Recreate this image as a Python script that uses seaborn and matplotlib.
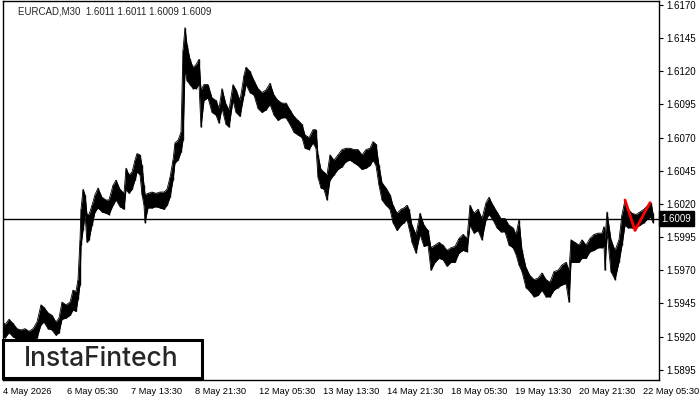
import matplotlib
matplotlib.use('Agg')
import matplotlib.pyplot as plt
import seaborn as sns
import pandas as pd
from matplotlib.patches import Rectangle

# bar number (M30 bars from the left edge), high and low
bar = [0, 2, 6, 10, 14, 18, 22, 26, 30, 34, 38, 41, 45, 49, 53, 56, 59, 63, 67, 70,
       73, 75, 77, 78, 80, 82, 84, 86, 89, 92, 95, 99, 103, 106, 110, 113, 117, 121, 123, 126,
       129, 132, 134, 137, 139, 141, 142, 145, 149, 153, 157, 161, 164, 167, 170, 172, 175, 178, 180, 182,
       184, 187, 190, 193, 196, 198, 201, 205, 209, 213, 216, 219, 223, 226, 230, 233, 237, 241, 243, 247,
       251, 255, 259, 263, 267, 271, 275, 279, 283, 287, 291, 295, 299, 302, 306, 310, 313, 315, 318, 321,
       324, 327, 331, 335, 339, 343, 347, 351, 355, 359, 363, 367, 370, 373, 376, 379, 383, 387, 390, 394,
       398, 401, 404, 406, 409, 413, 417, 421, 425, 428, 432, 436, 440, 444, 448, 452, 456, 460, 464, 467,
       471, 475, 479, 483, 486, 490, 494, 498, 502, 506, 510, 513, 516, 519, 523, 527, 531, 535, 539, 543,
       547, 551, 555, 559, 563, 566, 568, 572, 576, 579, 583, 587, 591, 595, 599, 601, 602, 604, 608, 612,
       616, 619, 622, 625, 629, 633, 637, 641, 645, 648, 650]
high = [1.5931, 1.5929, 1.5933, 1.5930, 1.5926, 1.5925, 1.5926, 1.5924, 1.5926, 1.5931, 1.5944, 1.5942, 1.5938, 1.5936, 1.5931, 1.5934, 1.5946, 1.5944, 1.5946, 1.5955,
        1.5954, 1.5963, 1.5993, 1.6016, 1.6031, 1.6027, 1.6012, 1.6012, 1.6019, 1.6027, 1.6032, 1.6025, 1.6023, 1.6023, 1.6034, 1.6038, 1.6031, 1.6028, 1.6047, 1.6042,
        1.6044, 1.6053, 1.6058, 1.6057, 1.6049, 1.6034, 1.6027, 1.6028, 1.6029, 1.6028, 1.6029, 1.6029, 1.6031, 1.6040, 1.6053, 1.6066, 1.6068, 1.6074, 1.6136, 1.6153,
        1.6140, 1.6129, 1.6123, 1.6125, 1.6129, 1.6106, 1.6110, 1.6110, 1.6100, 1.6098, 1.6092, 1.6107, 1.6095, 1.6091, 1.6110, 1.6106, 1.6098, 1.6117, 1.6123, 1.6120,
        1.6113, 1.6107, 1.6104, 1.6106, 1.6111, 1.6102, 1.6098, 1.6096, 1.6096, 1.6091, 1.6086, 1.6083, 1.6080, 1.6072, 1.6070, 1.6076, 1.6076, 1.6057, 1.6046, 1.6044,
        1.6042, 1.6057, 1.6053, 1.6057, 1.6061, 1.6062, 1.6062, 1.6061, 1.6061, 1.6057, 1.6061, 1.6062, 1.6067, 1.6065, 1.6049, 1.6036, 1.6032, 1.6027, 1.6019, 1.6013,
        1.6016, 1.6017, 1.6019, 1.6016, 1.6004, 1.5997, 1.6013, 1.6004, 1.6000, 1.5987, 1.5989, 1.5991, 1.5989, 1.5985, 1.5987, 1.5988, 1.5994, 1.5997, 1.5994, 1.6019,
        1.6013, 1.6016, 1.6009, 1.6021, 1.6025, 1.6019, 1.6014, 1.6009, 1.6009, 1.6004, 1.6002, 1.5997, 1.6008, 1.5985, 1.5972, 1.5966, 1.5963, 1.5964, 1.5968, 1.5963,
        1.5961, 1.5969, 1.5970, 1.5974, 1.5976, 1.5970, 1.5993, 1.5991, 1.5989, 1.5993, 1.5989, 1.5994, 1.5997, 1.5998, 1.5998, 1.6003, 1.5993, 1.6014, 1.5993, 1.5985,
        1.5993, 1.6012, 1.6023, 1.6016, 1.6013, 1.6012, 1.6014, 1.6016, 1.6019, 1.6021, 1.6013]
low = [1.5920, 1.5919, 1.5923, 1.5920, 1.5918, 1.5917, 1.5917, 1.5917, 1.5917, 1.5919, 1.5929, 1.5931, 1.5926, 1.5925, 1.5921, 1.5923, 1.5933, 1.5934, 1.5936, 1.5940,
       1.5939, 1.5948, 1.5959, 1.5989, 1.6000, 1.6012, 1.5991, 1.5993, 1.6004, 1.6014, 1.6017, 1.6014, 1.6013, 1.6012, 1.6019, 1.6023, 1.6018, 1.6016, 1.6031, 1.6028,
       1.6031, 1.6038, 1.6044, 1.6042, 1.6027, 1.6019, 1.6006, 1.6017, 1.6017, 1.6018, 1.6017, 1.6016, 1.6019, 1.6025, 1.6038, 1.6051, 1.6053, 1.6059, 1.6068, 1.6121,
       1.6113, 1.6110, 1.6107, 1.6107, 1.6110, 1.6078, 1.6098, 1.6100, 1.6089, 1.6087, 1.6081, 1.6092, 1.6080, 1.6078, 1.6098, 1.6089, 1.6086, 1.6102, 1.6110, 1.6104,
       1.6102, 1.6092, 1.6089, 1.6091, 1.6095, 1.6087, 1.6083, 1.6085, 1.6085, 1.6080, 1.6074, 1.6072, 1.6070, 1.6062, 1.6061, 1.6066, 1.6062, 1.6040, 1.6032, 1.6031,
       1.6023, 1.6038, 1.6042, 1.6046, 1.6048, 1.6052, 1.6053, 1.6051, 1.6049, 1.6046, 1.6047, 1.6049, 1.6053, 1.6049, 1.6034, 1.6023, 1.6019, 1.6016, 1.6006, 1.6000,
       1.6004, 1.6006, 1.6008, 1.6002, 1.5991, 1.5983, 1.5997, 1.5988, 1.5989, 1.5970, 1.5976, 1.5979, 1.5978, 1.5973, 1.5976, 1.5976, 1.5983, 1.5985, 1.5984, 1.6004,
       1.5998, 1.6000, 1.5993, 1.6008, 1.6012, 1.6008, 1.6002, 1.5999, 1.5999, 1.5989, 1.5987, 1.5982, 1.5974, 1.5969, 1.5957, 1.5954, 1.5950, 1.5951, 1.5955, 1.5950,
       1.5950, 1.5955, 1.5957, 1.5959, 1.5960, 1.5946, 1.5976, 1.5976, 1.5976, 1.5979, 1.5979, 1.5984, 1.5985, 1.5987, 1.5987, 1.5988, 1.5970, 1.5999, 1.5969, 1.5963,
       1.5976, 1.5989, 1.6004, 1.6002, 1.6002, 1.6002, 1.6004, 1.6006, 1.6009, 1.6010, 1.6006]

# pattern (red V) and current price
pattern_bar = [622, 632, 647]
pattern_price = [1.6023, 1.6000, 1.6021]
last_price = 1.6009
header = 'EURCAD,M30  1.6011 1.6011 1.6009 1.6009'

price_ticks = [1.5895, 1.5920, 1.5945, 1.5970, 1.5995, 1.6020, 1.6045, 1.6070, 1.6095, 1.6120, 1.6145, 1.6170]
time_ticks = [0, 64, 128, 192, 256, 320, 384, 448, 512, 576, 640]
time_labels = ['4 May 2026', '6 May 05:30', '7 May 13:30', '8 May 21:30', '12 May 05:30', '13 May 13:30',
               '14 May 21:30', '18 May 05:30', '19 May 13:30', '20 May 21:30', '22 May 05:30']

df = pd.DataFrame({'bar': bar, 'high': high, 'low': low})

sns.set_style('white')
plt.rcParams['font.family'] = ['Liberation Sans', 'DejaVu Sans']

fig = plt.figure(figsize=(7, 4), dpi=100)
ax = fig.add_axes([3/700, 20/400, 656/700, 379/400])

ax.fill_between(df['bar'], df['low'], df['high'], color='black', linewidth=0)
ax.vlines(df['bar'], df['low'], df['high'], color='black', linewidth=1)
sns.lineplot(data=df, x='bar', y='high', color='black', linewidth=0.6, ax=ax)
sns.lineplot(data=df, x='bar', y='low', color='black', linewidth=0.6, ax=ax)
ax.axhline(last_price, color='black', linewidth=1)
sns.lineplot(x=pattern_bar, y=pattern_price, color='red', linewidth=2, ax=ax)

ax.set_xlim(0, 656)
ax.set_ylim(1.58873, 1.6173)
ax.yaxis.tick_right()
ax.set_yticks(price_ticks)
ax.set_yticklabels([f'{p:.4f}' for p in price_ticks])
ax.set_xticks(time_ticks)
ax.set_xticklabels(time_labels, ha='left')
ax.tick_params(axis='both', direction='out', length=3, width=0.8, labelsize=7, colors='black', pad=2)
ax.tick_params(axis='x', labelsize=6.7)
ax.set_xlabel('')
ax.set_ylabel('')
for s in ax.spines.values():
    s.set_color('black')
    s.set_linewidth(1)

ax.text(1.004, last_price, f'{last_price:.4f}', transform=ax.get_yaxis_transform(),
        color='white', fontsize=7, va='center', ha='left',
        bbox=dict(boxstyle='square,pad=0.3', fc='black', ec='black'))

fig.text(18/700, 1 - 11/400, header, fontsize=7, va='center', ha='left')

fig.patches.append(Rectangle((3/700, 22/400), 199/700, 38/400, transform=fig.transFigure,
                             facecolor='white', edgecolor='black', linewidth=2.2, zorder=5))
fig.text(101/700, 41/400, 'InstaFintech', fontsize=19, weight='medium', family=['Inter', 'DejaVu Sans'],
         va='center', ha='center', zorder=6)

fig.savefig('out.png', dpi=100)
